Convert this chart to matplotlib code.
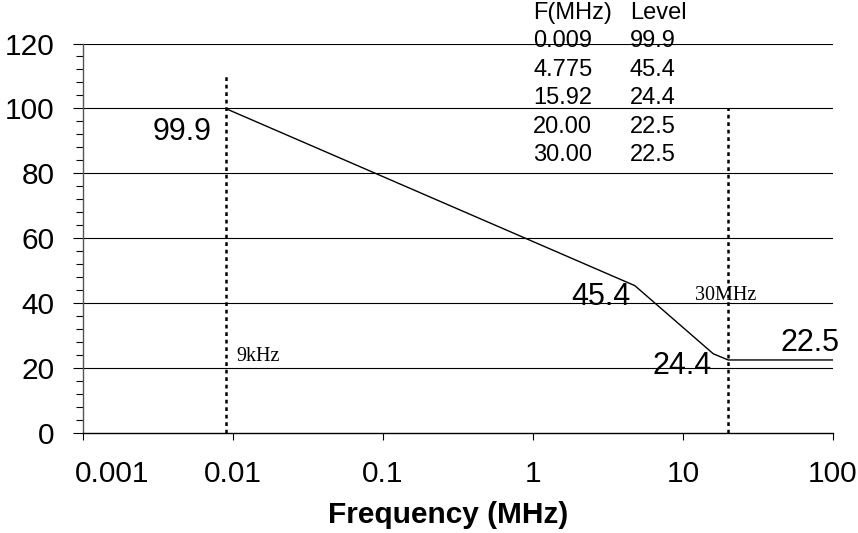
import numpy as np
import matplotlib.pyplot as plt
import matplotlib.transforms as mtransforms
from matplotlib.ticker import FixedLocator, MultipleLocator, NullLocator

plt.rcParams['font.family'] = ['Liberation Sans', 'DejaVu Sans']

# limit line data
freq = [0.009, 4.775, 15.92, 20.0, 30.0]
level = [99.9, 45.4, 24.4, 22.5, 22.5]

# table printed at the top
table_header = ['F(MHz)', 'Level']
table_freq = ['0.009', '4.775', '15.92', '20.00', '30.00']
table_level = ['99.9', '45.4', '24.4', '22.5', '22.5']

x_ticks = [0.001, 0.01, 0.1, 1, 10, 100]
x_tick_labels = ['0.001', '0.01', '0.1', '1', '10', '100']
y_ticks = [0, 20, 40, 60, 80, 100, 120]

start_marker = 0.009
stop_marker = 20.0

fig = plt.figure(figsize=(8.58, 5.33), dpi=100)
ax = fig.add_axes([83 / 858, 100 / 533, 750 / 858, 389.5 / 533])

ax.set_xscale('log')
ax.set_xlim(x_ticks[0], x_ticks[-1])
ax.set_ylim(y_ticks[0], y_ticks[-1])

# horizontal grid
for y in y_ticks[1:]:
    ax.axhline(y, color='black', lw=0.8, zorder=1)

# curve, held flat to the end of the axis
line_f = freq + [x_ticks[-1]]
line_l = level + [level[-1]]
ax.plot(line_f, line_l, color='black', lw=1.0, zorder=3)

# dotted markers
ax.vlines(start_marker, 0, 110, colors='black', linestyles=(0, (1.5, 1.5)), lw=1.8, zorder=2)
ax.vlines(stop_marker, 0, 100, colors='black', linestyles=(0, (1.5, 1.5)), lw=1.8, zorder=2)

# value labels
ax.text(0.0072, 92.8, '99.9', fontsize=22, ha='right', va='center')
ax.text(4.5, 41.9, '45.4', fontsize=22, ha='right', va='center')
ax.text(15.6, 20.6, '24.4', fontsize=22, ha='right', va='center')
ax.text(110, 27.7, '22.5', fontsize=22, ha='right', va='center')
ax.text(0.0106, 23.7, '9kHz', fontsize=14.5, family='Liberation Serif', ha='left', va='center')
ax.text(12.0, 42.5, '30MHz', fontsize=14.5, family='Liberation Serif', ha='left', va='center')

# table
col1_x, col2_x = 1.0, 4.43
row_y0, row_step = 129.4, 8.75
ax.text(col1_x, row_y0, table_header[0], fontsize=17, va='center', clip_on=False)
ax.text(col2_x, row_y0, table_header[1], fontsize=17, va='center', clip_on=False)
for i, (f, l) in enumerate(zip(table_freq, table_level)):
    y = row_y0 - (i + 1) * row_step
    ax.text(col1_x, y, f, fontsize=17, va='center')
    ax.text(col2_x, y, l, fontsize=17, va='center')

# spines and ticks
ax.spines['top'].set_visible(False)
ax.spines['right'].set_visible(False)
ax.spines['left'].set_color('#555555')
ax.spines['bottom'].set_color('black')
ax.spines['left'].set_linewidth(1.0)
ax.spines['bottom'].set_linewidth(1.0)

ax.xaxis.set_major_locator(FixedLocator(x_ticks))
ax.xaxis.set_minor_locator(NullLocator())
ax.set_xticklabels(x_tick_labels)
ax.set_yticks(y_ticks)
ax.yaxis.set_minor_locator(MultipleLocator(4))

ax.tick_params(axis='x', which='major', direction='out', length=5, width=0.8, pad=14.5, labelsize=21.5)
ax.tick_params(axis='y', which='major', direction='out', length=7.5, width=0.8, pad=13, labelsize=21.5)
ax.tick_params(axis='y', which='minor', direction='out', length=5, width=0.8)

# first x label sits to the right of its tick, as in the original
first = ax.get_xticklabels()[0]
first.set_transform(first.get_transform() + mtransforms.ScaledTranslation(0.29, 0, fig.dpi_scale_trans))

ax.set_xlabel('Frequency (MHz)', fontsize=21.5, fontweight='bold', va='center')
ax.xaxis.set_label_coords(0.487, -0.21)

fig.savefig('out.png', dpi=100)
